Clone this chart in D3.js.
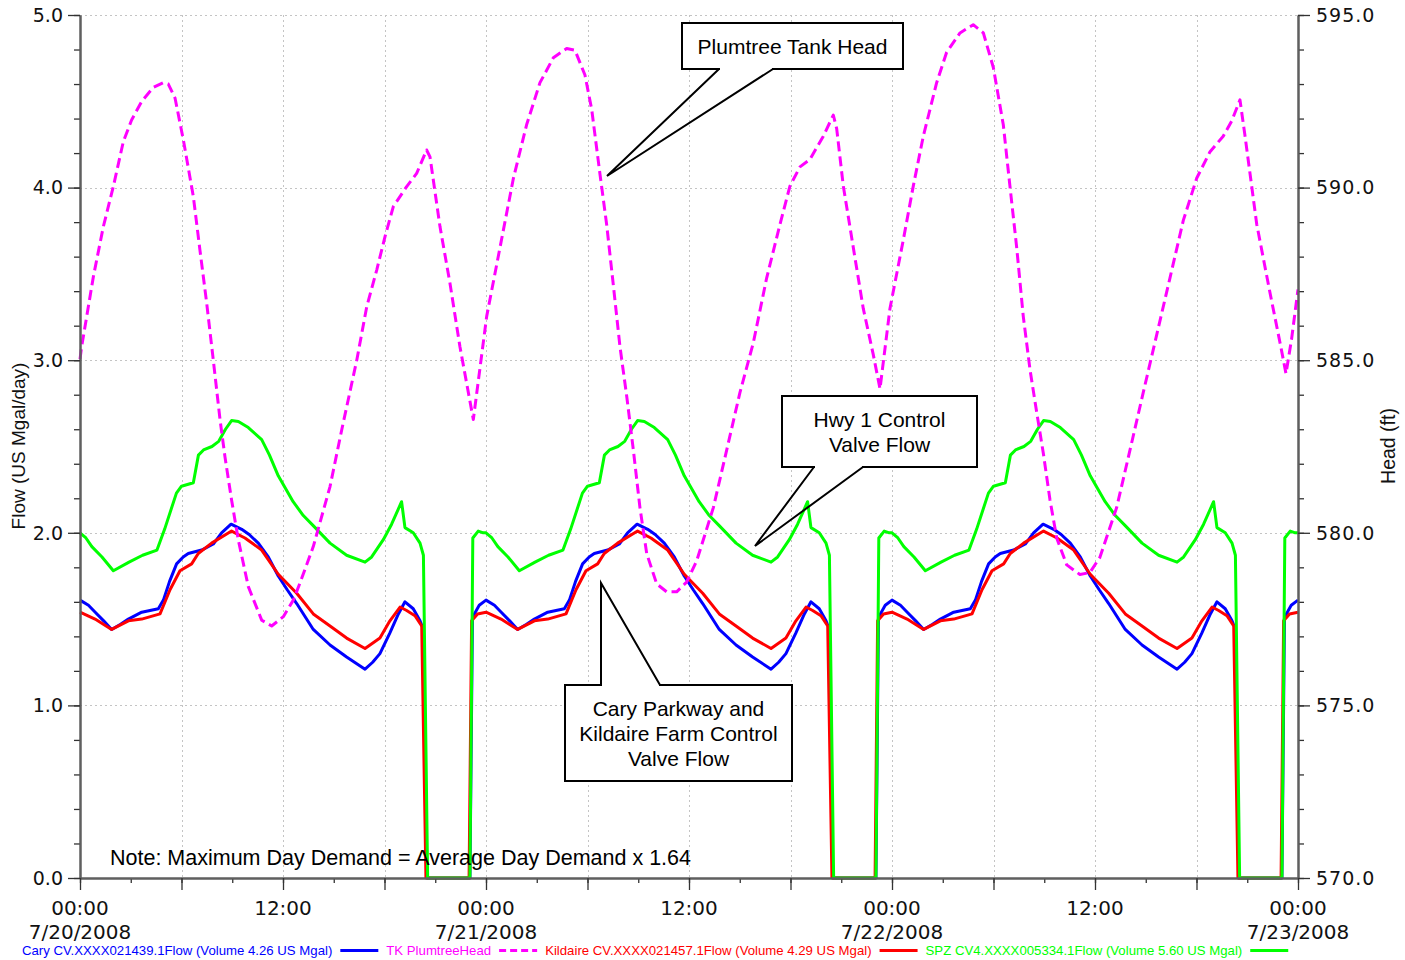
<!DOCTYPE html>
<html>
<head>
<meta charset="utf-8">
<script src="https://cdn.jsdelivr.net/npm/d3@7"></script>
<style>
  body { margin: 0; background: #fff; }
  svg { display: block; }
</style>
</head>
<body>
<svg id="chart" width="1405" height="960"></svg>
<script>
// ---- Series: [hours since 7/20/2008 00:00, value] ----
// Cary Parkway control valve flow (US Mgal/day)
const caryFlow = [
  [0,1.61],[0.5,1.58],[0.9,1.54],[1.4,1.49],[1.87,1.44],[2.4,1.47],[2.86,1.50],[3.65,1.54],[4.63,1.56],[4.93,1.61],
  [5.3,1.72],[5.71,1.82],[6.1,1.86],[6.4,1.88],[7.19,1.90],[7.88,1.935],[8.37,2.00],[8.93,2.05],[9.56,2.02],[10.0,1.99],
  [10.54,1.94],[11.13,1.86],[11.72,1.75],[12.25,1.67],[12.81,1.59],[13.79,1.44],[14.78,1.35],[15.76,1.28],[16.85,1.21],[17.3,1.25],
  [17.73,1.30],[18.32,1.42],[18.82,1.53],[19.21,1.60],[19.7,1.56],[20.1,1.49],[20.26,1.45],[20.5,0],[23.05,0],[23.2,1.51],[23.6,1.58],
  [24,1.61],[24.5,1.58],[24.9,1.54],[25.4,1.49],[25.87,1.44],[26.4,1.47],[26.86,1.50],[27.65,1.54],[28.63,1.56],[28.93,1.61],
  [29.3,1.72],[29.71,1.82],[30.1,1.86],[30.4,1.88],[31.19,1.90],[31.88,1.935],[32.37,2.00],[32.93,2.05],[33.56,2.02],[34.0,1.99],
  [34.54,1.94],[35.13,1.86],[35.72,1.75],[36.25,1.67],[36.81,1.59],[37.79,1.44],[38.78,1.35],[39.76,1.28],[40.85,1.21],[41.3,1.25],
  [41.73,1.30],[42.32,1.42],[42.82,1.53],[43.21,1.60],[43.7,1.56],[44.1,1.49],[44.26,1.45],[44.5,0],[47.05,0],[47.2,1.51],[47.6,1.58],
  [48,1.61],[48.5,1.58],[48.9,1.54],[49.4,1.49],[49.87,1.44],[50.4,1.47],[50.86,1.50],[51.65,1.54],[52.63,1.56],[52.93,1.61],
  [53.3,1.72],[53.71,1.82],[54.1,1.86],[54.4,1.88],[55.19,1.90],[55.88,1.935],[56.37,2.00],[56.93,2.05],[57.56,2.02],[58.0,1.99],
  [58.54,1.94],[59.13,1.86],[59.72,1.75],[60.25,1.67],[60.81,1.59],[61.79,1.44],[62.78,1.35],[63.76,1.28],[64.85,1.21],[65.3,1.25],
  [65.73,1.30],[66.32,1.42],[66.82,1.53],[67.21,1.60],[67.7,1.56],[68.1,1.49],[68.26,1.45],[68.5,0],[71.05,0],[71.2,1.51],[71.6,1.58],
  [72,1.61]
];

// Kildaire Farm control valve flow (US Mgal/day)
const kildaireFlow = [
  [0,1.54],[0.89,1.50],[1.87,1.44],[2.86,1.49],[3.65,1.50],[4.73,1.53],[5.32,1.67],[5.91,1.78],[6.6,1.82],[6.99,1.88],
  [7.78,1.94],[8.96,2.01],[9.75,1.97],[10.74,1.90],[11.72,1.76],[12.81,1.65],[13.79,1.53],[14.78,1.46],[15.76,1.39],[16.85,1.33],
  [17.73,1.39],[18.32,1.49],[18.92,1.57],[19.31,1.55],[19.8,1.52],[20.2,1.46],[20.45,0],[23.0,0],[23.15,1.49],[23.5,1.53],
  [24,1.54],[24.89,1.50],[25.87,1.44],[26.86,1.49],[27.65,1.50],[28.73,1.53],[29.32,1.67],[29.91,1.78],[30.6,1.82],[30.99,1.88],
  [31.78,1.94],[32.96,2.01],[33.75,1.97],[34.74,1.90],[35.72,1.76],[36.81,1.65],[37.79,1.53],[38.78,1.46],[39.76,1.39],[40.85,1.33],
  [41.73,1.39],[42.32,1.49],[42.92,1.57],[43.31,1.55],[43.8,1.52],[44.2,1.46],[44.45,0],[47.0,0],[47.15,1.49],[47.5,1.53],
  [48,1.54],[48.89,1.50],[49.87,1.44],[50.86,1.49],[51.65,1.50],[52.73,1.53],[53.32,1.67],[53.91,1.78],[54.6,1.82],[54.99,1.88],
  [55.78,1.94],[56.96,2.01],[57.75,1.97],[58.74,1.90],[59.72,1.76],[60.81,1.65],[61.79,1.53],[62.78,1.46],[63.76,1.39],[64.85,1.33],
  [65.73,1.39],[66.32,1.49],[66.92,1.57],[67.31,1.55],[67.8,1.52],[68.2,1.46],[68.45,0],[71.0,0],[71.15,1.49],[71.5,1.53],
  [72,1.54]
];

// SPZ CV4 (Hwy 1) control valve flow (US Mgal/day)
const spzFlow = [
  [0,2.00],[0.35,1.97],[0.7,1.92],[1.3,1.86],[1.97,1.78],[2.9,1.83],[3.7,1.87],[4.55,1.90],[5.0,2.02],[5.7,2.23],
  [6.0,2.27],[6.7,2.29],[7.0,2.45],[7.3,2.48],[7.8,2.50],[8.2,2.53],[8.6,2.60],[8.96,2.65],[9.36,2.645],[9.95,2.61],
  [10.74,2.54],[11.2,2.45],[11.72,2.33],[12.6,2.18],[13.2,2.10],[13.8,2.04],[14.78,1.94],[15.76,1.87],[16.85,1.83],[17.24,1.86],
  [17.93,1.96],[18.42,2.05],[19.01,2.18],[19.21,2.03],[19.7,2.00],[20.1,1.94],[20.3,1.87],[20.55,0],[23.05,0],[23.22,1.97],
  [23.54,2.01],[23.84,2.00],
  [24,2.00],[24.35,1.97],[24.7,1.92],[25.3,1.86],[25.97,1.78],[26.9,1.83],[27.7,1.87],[28.55,1.90],[29.0,2.02],[29.7,2.23],
  [30.0,2.27],[30.7,2.29],[31.0,2.45],[31.3,2.48],[31.8,2.50],[32.2,2.53],[32.6,2.60],[32.96,2.65],[33.36,2.645],[33.95,2.61],
  [34.74,2.54],[35.2,2.45],[35.72,2.33],[36.6,2.18],[37.2,2.10],[37.8,2.04],[38.78,1.94],[39.76,1.87],[40.85,1.83],[41.24,1.86],
  [41.93,1.96],[42.42,2.05],[43.01,2.18],[43.21,2.03],[43.7,2.00],[44.1,1.94],[44.3,1.87],[44.55,0],[47.05,0],[47.22,1.97],
  [47.54,2.01],[47.84,2.00],
  [48,2.00],[48.35,1.97],[48.7,1.92],[49.3,1.86],[49.97,1.78],[50.9,1.83],[51.7,1.87],[52.55,1.90],[53.0,2.02],[53.7,2.23],
  [54.0,2.27],[54.7,2.29],[55.0,2.45],[55.3,2.48],[55.8,2.50],[56.2,2.53],[56.6,2.60],[56.96,2.65],[57.36,2.645],[57.95,2.61],
  [58.74,2.54],[59.2,2.45],[59.72,2.33],[60.6,2.18],[61.2,2.10],[61.8,2.04],[62.78,1.94],[63.76,1.87],[64.85,1.83],[65.24,1.86],
  [65.93,1.96],[66.42,2.05],[67.01,2.18],[67.21,2.03],[67.7,2.00],[68.1,1.94],[68.3,1.87],[68.55,0],[71.05,0],[71.22,1.97],
  [71.54,2.01],[71.84,2.00],[72,2.00]
];

// Plumtree tank hydraulic grade (ft)
const plumtreeHead = [
  [0,585.03],[0.1,585.4],[0.79,587.42],[1.38,588.87],[1.97,590.03],[2.56,591.33],[3.05,591.96],[3.64,592.49],[4.33,592.90],[4.93,593.04],
  [5.22,593.00],[5.62,592.59],[6.11,591.38],[6.70,589.74],[7.09,588.19],[7.49,586.65],[7.88,585.0],[8.28,583.27],[8.57,582.2],[8.96,580.95],
  [9.36,579.79],[9.95,578.44],[10.74,577.47],[11.33,577.30],[12.02,577.57],[12.61,578.05],[13.0,578.54],[13.79,579.60],[14.78,581.34],[15.47,582.98],
  [16.36,585.0],[16.95,586.55],[17.54,587.61],[18.03,588.58],[18.52,589.45],[19.31,590.03],[19.90,590.41],[20.49,591.09],[20.69,590.89],[21.28,588.87],
  [21.87,587.23],[22.46,585.39],[23.25,583.28],[24.04,586.27],[24.83,588.27],[25.62,590.27],[26.40,591.82],[27.19,593.04],[27.98,593.76],[28.77,594.03],
  [29.26,593.98],[29.85,593.26],[30.25,592.26],[30.74,590.38],[31.13,588.94],[31.53,587.16],[31.92,585.39],[32.32,583.95],[32.71,582.40],[33.10,580.73],
  [33.50,579.40],[34.09,578.52],[34.68,578.29],[35.27,578.29],[35.86,578.57],[36.45,579.18],[37.44,580.73],[38.23,582.40],[39.01,584.06],[39.80,585.50],
  [40.59,587.38],[41.38,588.94],[41.97,590.05],[42.56,590.60],[43.15,590.82],[43.94,591.49],[44.53,592.10],[44.73,591.71],[45.12,590.05],[45.71,588.27],
  [46.30,586.50],[46.89,585.17],[47.29,584.17],[47.88,586.5],[48.67,588.49],[49.26,590.05],[49.85,591.49],[50.64,593.04],[51.23,593.92],[52.02,594.48],
  [52.80,594.72],[53.40,594.48],[53.99,593.48],[54.58,591.82],[54.97,590.05],[55.37,588.27],[55.76,586.27],[56.16,584.72],[56.55,583.50],[56.95,582.29],
  [57.34,580.95],[57.74,579.84],[58.33,579.07],[59.11,578.79],[59.70,578.85],[60.29,579.29],[61.28,580.73],[62.07,582.40],[62.85,584.06],[63.64,585.72],
  [64.43,587.38],[65.22,589.05],[66.01,590.27],[66.80,591.04],[67.58,591.49],[68.08,591.93],[68.57,592.54],[68.87,591.49],[69.56,588.94],[70.35,586.94],
  [70.94,585.50],[71.29,584.61],[71.62,585.61],[72,587.05]
];

// ---- Axes and labels ----
const flowTicks = [0, 1, 2, 3, 4, 5];
const headTicks = [570, 575, 580, 585, 590, 595];
const flowTitle = "Flow (US Mgal/day)";
const headTitle = "Head (ft)";
const noteText = "Note: Maximum Day Demand = Average Day Demand x 1.64";

const legendItems = [
  { label: "Cary CV.XXXX021439.1Flow (Volume 4.26 US Mgal)", color: "#0000ff", dash: null },
  { label: "TK PlumtreeHead", color: "#ff00ff", dash: "7,4" },
  { label: "Kildaire CV.XXXX021457.1Flow (Volume 4.29 US Mgal)", color: "#ff0000", dash: null },
  { label: "SPZ CV4.XXXX005334.1Flow (Volume 5.60 US Mgal)", color: "#00ff00", dash: null }
];

const callouts = [
  { lines: ["Plumtree Tank Head"], box: [682, 23, 221, 46], side: "bottom", base: [719, 773], tip: [607, 176] },
  { lines: ["Hwy 1 Control", "Valve Flow"], box: [782, 396, 195, 71], side: "bottom", base: [814, 863], tip: [755, 546] },
  { lines: ["Cary Parkway and", "Kildaire Farm Control", "Valve Flow"], box: [565, 685, 227, 96], side: "top", base: [601, 660], tip: [601, 583] }
];

// ---- Chart ----
const svg = d3.select("#chart");
const plotLeft = 80, plotRight = 1298, plotTop = 15, plotBottom = 878;

const start = new Date(2008, 6, 20, 0, 0, 0);
const at = h => new Date(start.getTime() + h * 3600000);

const x = d3.scaleTime().domain([at(0), at(72)]).range([plotLeft, plotRight]);
const yFlow = d3.scaleLinear().domain([0, 5]).range([plotBottom, plotTop]);
const yHead = d3.scaleLinear().domain([570, 595]).range([plotBottom, plotTop]);

const tickFont = "DejaVu Sans, Verdana, sans-serif";
const textFont = "Liberation Sans, Arial, sans-serif";

// Grid
const grid = svg.append("g").attr("stroke", "#c4c4c4").attr("stroke-width", 1)
  .attr("stroke-dasharray", "2,3").attr("fill", "none");
flowTicks.filter(d => d > 0).forEach(d => {
  grid.append("line").attr("x1", plotLeft).attr("x2", plotRight)
    .attr("y1", Math.round(yFlow(d)) + 0.5).attr("y2", Math.round(yFlow(d)) + 0.5);
});
x.ticks(d3.timeHour.every(6)).filter(d => +d > +at(0) && +d < +at(72)).forEach(d => {
  const px = Math.round(x(d)) + 0.5;
  grid.append("line").attr("x1", px).attr("x2", px).attr("y1", plotTop).attr("y2", plotBottom);
});

// Series
const line = yS => d3.line().x(d => x(at(d[0]))).y(d => yS(d[1])).curve(d3.curveLinear);
const plot = svg.append("g").attr("fill", "none").attr("stroke-linejoin", "round");
plot.append("path").datum(caryFlow).attr("d", line(yFlow)).attr("stroke", "#0000ff").attr("stroke-width", 3);
plot.append("path").datum(kildaireFlow).attr("d", line(yFlow)).attr("stroke", "#ff0000").attr("stroke-width", 3);
plot.append("path").datum(spzFlow).attr("d", line(yFlow)).attr("stroke", "#00ff00").attr("stroke-width", 3);
plot.append("path").datum(plumtreeHead).attr("d", line(yHead)).attr("stroke", "#ff00ff").attr("stroke-width", 3)
  .attr("stroke-dasharray", "10,5");

// Axes
const axisColor = "#5f5f5f";
function styleAxis(g) {
  g.select(".domain").attr("stroke", axisColor).attr("stroke-width", 2);
  g.selectAll(".tick line").attr("stroke", "#333").attr("stroke-width", 1.3);
  g.selectAll("text").remove();
}
const minorFlow = d3.range(0, 5.0001, 0.2).map(v => +v.toFixed(1));
svg.append("g").attr("transform", `translate(${plotLeft},0)`)
  .call(d3.axisLeft(yFlow).tickValues(minorFlow).tickSize(6).tickSizeOuter(0)).call(styleAxis);
svg.append("g").attr("transform", `translate(${plotLeft},0)`)
  .call(d3.axisLeft(yFlow).tickValues(flowTicks).tickSize(12).tickSizeOuter(0)).call(styleAxis);

const minorHead = d3.range(570, 595.001, 1);
svg.append("g").attr("transform", `translate(${plotRight},0)`)
  .call(d3.axisRight(yHead).tickValues(minorHead).tickSize(6).tickSizeOuter(0)).call(styleAxis);
svg.append("g").attr("transform", `translate(${plotRight},0)`)
  .call(d3.axisRight(yHead).tickValues(headTicks).tickSize(12).tickSizeOuter(0)).call(styleAxis);

svg.append("g").attr("transform", `translate(0,${plotBottom})`)
  .call(d3.axisBottom(x).ticks(d3.timeHour.every(3)).tickSize(5).tickSizeOuter(0)).call(styleAxis);
svg.append("g").attr("transform", `translate(0,${plotBottom})`)
  .call(d3.axisBottom(x).ticks(d3.timeHour.every(6)).tickSize(12).tickSizeOuter(0)).call(styleAxis);

// Tick labels
const fmt1 = d3.format(".1f");
svg.append("g").selectAll("text").data(flowTicks).join("text")
  .attr("x", 63).attr("y", d => yFlow(d)).attr("dy", "0.36em")
  .attr("text-anchor", "end").attr("font-family", tickFont).attr("font-size", 19).attr("fill", "#111")
  .text(d => fmt1(d));
svg.append("g").selectAll("text").data(headTicks).join("text")
  .attr("x", 1316).attr("y", d => yHead(d)).attr("dy", "0.36em")
  .attr("text-anchor", "start").attr("font-family", tickFont).attr("font-size", 19).attr("fill", "#111")
  .attr("letter-spacing", 1)
  .text(d => fmt1(d));

const timeFmt = d3.timeFormat("%H:%M");
const dateFmt = d3.timeFormat("%-m/%-d/%Y");
const labelTimes = x.ticks(d3.timeHour.every(12));
const xl = svg.append("g").attr("font-family", tickFont).attr("font-size", 20).attr("fill", "#111").attr("text-anchor", "middle");
labelTimes.forEach(d => {
  xl.append("text").attr("x", x(d)).attr("y", 915).text(timeFmt(d));
  if (d.getHours() === 0) xl.append("text").attr("x", x(d)).attr("y", 939).text(dateFmt(d));
});

// Axis titles
svg.append("text").attr("transform", "translate(25,446) rotate(-90)")
  .attr("text-anchor", "middle").attr("font-family", textFont).attr("font-size", 19).attr("fill", "#111")
  .text(flowTitle);
svg.append("text").attr("transform", "translate(1395,446) rotate(-90)")
  .attr("text-anchor", "middle").attr("font-family", textFont).attr("font-size", 19.5).attr("fill", "#111")
  .text(headTitle);

// Note
svg.append("text").attr("x", 110).attr("y", 865).attr("font-family", textFont).attr("font-size", 21.5)
  .attr("fill", "#000").text(noteText);

// Callouts
callouts.forEach(c => {
  const [bx, by, bw, bh] = c.box;
  const g = svg.append("g");
  g.append("rect").attr("x", bx).attr("y", by).attr("width", bw).attr("height", bh)
    .attr("fill", "#fff").attr("stroke", "#000").attr("stroke-width", 2);
  const edgeY = c.side === "bottom" ? by + bh : by;
  g.append("line").attr("x1", c.base[0] + 1).attr("x2", c.base[1] - 1).attr("y1", edgeY).attr("y2", edgeY)
    .attr("stroke", "#fff").attr("stroke-width", 3);
  g.append("path")
    .attr("d", `M${c.base[0]},${edgeY}L${c.tip[0]},${c.tip[1]}L${c.base[1]},${edgeY}`)
    .attr("fill", "none").attr("stroke", "#000").attr("stroke-width", 2).attr("stroke-linejoin", "miter");
  const lh = 25;
  const cy = by + bh / 2 - (c.lines.length - 1) * lh / 2;
  c.lines.forEach((t, i) => {
    g.append("text").attr("x", bx + bw / 2).attr("y", cy + i * lh).attr("dy", "0.36em")
      .attr("text-anchor", "middle").attr("font-family", textFont).attr("font-size", 21).attr("fill", "#000")
      .text(t);
  });
});

// Legend
const lg = svg.append("g").attr("font-family", textFont).attr("font-size", 13.2);
let lx = 22;
legendItems.forEach(it => {
  const t = lg.append("text").attr("x", lx).attr("y", 955).attr("fill", it.color).text(it.label);
  lx += t.node().getComputedTextLength() + 8;
  lg.append("line").attr("x1", lx).attr("x2", lx + 38).attr("y1", 950.5).attr("y2", 950.5)
    .attr("stroke", it.color).attr("stroke-width", 3).attr("stroke-dasharray", it.dash);
  lx += 38 + 8;
});
</script>
</body>
</html>
